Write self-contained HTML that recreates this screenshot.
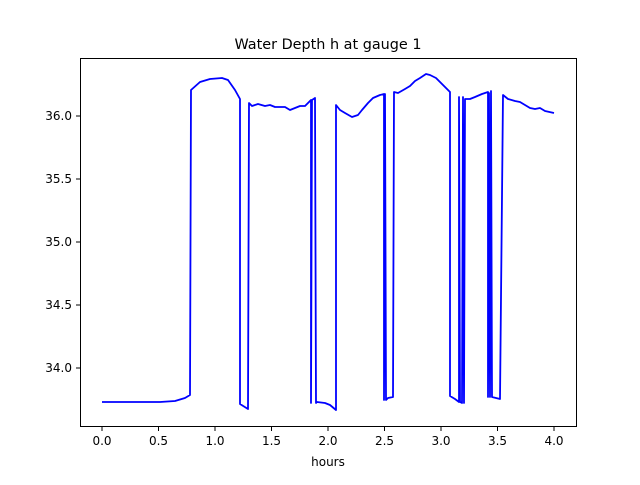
<!DOCTYPE html>
<html><head><style>body{margin:0;background:#fff}</style></head><body>
<svg width="640" height="480" xmlns="http://www.w3.org/2000/svg" font-family="DejaVu Sans, Liberation Sans, sans-serif">
<rect width="640" height="480" fill="#fff"/>
<text x="328" y="49" font-size="14.4" text-anchor="middle">Water Depth h at gauge 1</text>
<polyline fill="none" stroke="#0000ff" stroke-width="1.8" stroke-linejoin="round" points="102,402 160,402 175,401 185,398 190,395 191,90 200,82 210,79 222,78 228,80 235,90 240,99 240,404 248,409 249,103 252,106 258,104 265,106 270,105 275,107 285,107 290,110 295,108 300,106 305,106 310,101 311,100 311,403 312,100 315,98 316,403 317,402 325,403 330,405 336,410 336,105 340,110 345,113 352,117 358,115 362,110 368,103 373,98 380,95 384,94 384,400 385,94 386,400 388,398 393,397 394,92 398,93 405,89 410,86 415,81 420,78 426,74 430,75 436,78 441,83 450,92 450,396 455,399 459,402 459,97 460,402 462,403 463,97 464,403 465,99 470,99 475,97 482,94 488,92 488,397 489,93 490,397 491,91 492,397 500,399 503,95 508,99 515,101 520,102 525,105 530,108 535,109 540,108 545,111 554,113"/>
<rect x="80.5" y="58.5" width="496" height="368" fill="none" stroke="#000" stroke-width="1"/>
<g stroke="#000" stroke-width="1">
<line x1="102" y1="427" x2="102" y2="431"/><line x1="158.5" y1="427" x2="158.5" y2="431"/><line x1="215" y1="427" x2="215" y2="431"/><line x1="271.5" y1="427" x2="271.5" y2="431"/><line x1="328" y1="427" x2="328" y2="431"/><line x1="384.5" y1="427" x2="384.5" y2="431"/><line x1="441" y1="427" x2="441" y2="431"/><line x1="497.5" y1="427" x2="497.5" y2="431"/><line x1="554" y1="427" x2="554" y2="431"/>
<line x1="76" y1="116" x2="80" y2="116"/><line x1="76" y1="179" x2="80" y2="179"/><line x1="76" y1="242" x2="80" y2="242"/><line x1="76" y1="305" x2="80" y2="305"/><line x1="76" y1="368" x2="80" y2="368"/>
</g>
<g font-size="12" text-anchor="middle">
<text x="102" y="445">0.0</text><text x="158.5" y="445">0.5</text><text x="215" y="445">1.0</text><text x="271.5" y="445">1.5</text><text x="328" y="445">2.0</text><text x="384.5" y="445">2.5</text><text x="441" y="445">3.0</text><text x="497.5" y="445">3.5</text><text x="554" y="445">4.0</text>
<text x="328" y="466">hours</text>
</g>
<g font-size="12" text-anchor="end">
<text x="72" y="120">36.0</text><text x="72" y="183">35.5</text><text x="72" y="246">35.0</text><text x="72" y="309">34.5</text><text x="72" y="372">34.0</text>
</g>
</svg>
</body></html>
